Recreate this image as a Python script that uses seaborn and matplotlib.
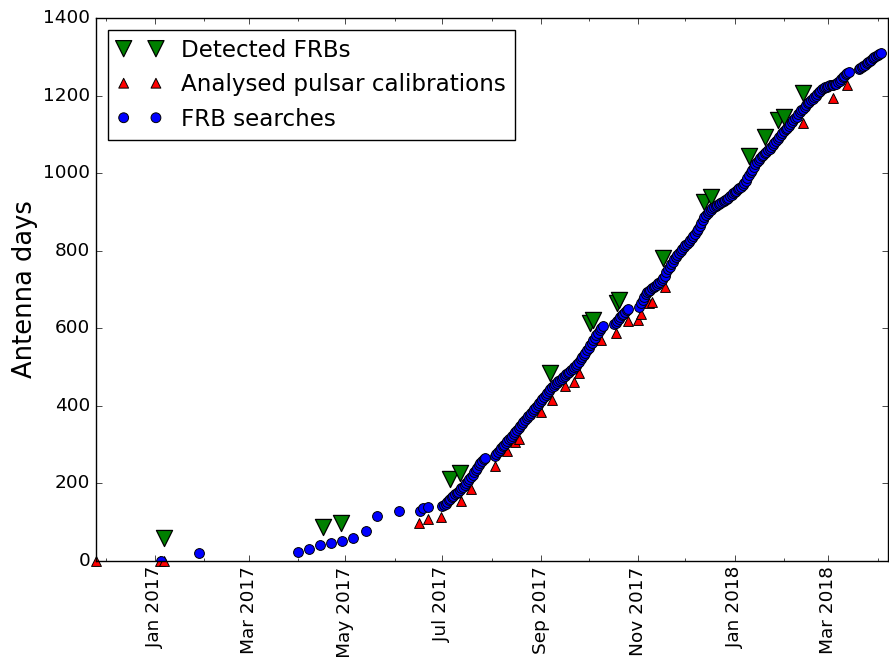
import pandas as pd
import matplotlib
matplotlib.use("Agg")
import matplotlib.pyplot as plt
import matplotlib.dates as mdates
import seaborn as sns


# Data (days counted from 1 Jan 2017, cumulative antenna days)

start = pd.Timestamp("2017-01-01")

frb_days = [6, 106, 117, 186, 192, 249, 274, 276, 291, 292, 320, 346, 350,
            374, 384, 392, 396, 408]
frb_antenna_days = [60, 88, 97, 211, 226, 484, 614, 621, 666, 673, 780, 926,
                    939, 1044, 1094, 1137, 1146, 1206]

cal_days = [-37, 3.5, 5.5, 166, 172, 180, 193, 199, 214, 222, 227, 229, 243,
            250, 258, 264, 267, 281, 290, 298, 304, 306, 311, 313, 321, 408,
            427, 436]
cal_antenna_days = [0, 0, 0, 99, 107, 114, 155, 185, 245, 284, 306, 314, 383,
                    414, 451, 462, 484, 570, 587, 620, 621, 636, 664, 668, 707,
                    1130, 1195, 1228]

search_days = [
    4, 28, 90, 97, 104, 111, 118, 125, 133, 140,
    154, 167, 169, 172,
    181, 182, 183, 184, 185, 186, 187, 188, 189, 190,
    191, 192, 193, 194, 195, 196, 197, 198, 199, 200,
    201, 202, 203, 204, 205, 206, 207, 208,
    214, 215, 216, 217, 218, 219, 220, 221, 222, 223,
    224, 225, 226, 227, 228, 229, 230, 231, 232, 233,
    234, 235, 236, 237, 238, 239, 240, 241, 242, 243,
    244, 245, 246, 247, 248, 249, 250, 251, 252, 253,
    254, 255, 256, 257, 258, 259, 260, 261, 262, 263,
    264, 265, 266, 267, 268, 269, 270, 271, 272, 273,
    274, 275, 276, 277, 278, 279, 280, 281, 282,
    289, 290, 291, 292, 293, 294, 295, 296, 297, 298,
    305, 306, 307, 308, 309, 310, 311, 312, 313, 314,
    315, 316, 317, 318, 319, 320, 321, 322, 323, 324,
    325, 326, 327, 328, 329, 330, 331, 332, 333, 334,
    335, 336, 337, 338, 339, 340, 341, 342, 343, 344,
    345, 346, 347, 348, 349, 350, 351, 352, 353, 354,
    355, 356, 357, 358, 359, 360, 361, 362, 363, 364,
    365, 366, 367, 368, 369, 370, 371, 372, 373, 374,
    375, 376, 377, 378, 379, 380, 381, 382, 383, 384,
    385, 386, 387, 388, 389, 390, 391, 392, 393, 394,
    395, 396, 397, 398, 399, 400, 401, 402, 403, 404,
    405, 406, 407, 408, 409, 410, 411, 412, 413, 414,
    415, 416, 417, 418, 419, 420, 421, 422, 423, 424,
    425, 426, 427, 428, 429, 430, 431, 432, 433, 434,
    435, 436, 437,
    443, 444, 445, 446, 447, 448, 449, 450, 451, 452,
    453, 454, 455, 456, 457,
]
search_antenna_days = [
    0, 21, 22, 31, 40, 46, 52, 60, 77, 115,
    129, 129, 136, 138,
    142, 144, 148, 152, 157, 161, 165, 168, 172, 175,
    179, 183, 188, 192, 197, 201, 206, 211, 217, 222,
    229, 235, 241, 247, 253, 258, 262, 266,
    271, 276, 281, 286, 291, 296, 300, 305, 309, 314,
    318, 323, 328, 333, 338, 343, 348, 353, 358, 363,
    368, 373, 377, 382, 387, 392, 397, 402, 407, 412,
    417, 423, 428, 433, 438, 443, 448, 452, 456, 460,
    463, 467, 470, 474, 477, 481, 484, 488, 492, 496,
    500, 504, 509, 514, 520, 526, 532, 537, 543, 549,
    556, 563, 570, 576, 583, 589, 595, 600, 606,
    610, 614, 618, 623, 628, 633, 638, 642, 647, 651,
    656, 664, 672, 680, 688, 693, 697, 700, 703, 706,
    709, 712, 716, 720, 725, 730, 735, 744, 752, 759,
    766, 772, 778, 784, 790, 795, 800, 805, 809, 814,
    818, 822, 827, 832, 838, 844, 850, 857, 865, 872,
    880, 886, 892, 897, 902, 906, 909, 912, 915, 918,
    921, 924, 926, 928, 930, 933, 936, 940, 944, 948,
    951, 955, 958, 961, 965, 969, 974, 980, 987, 995,
    1002, 1009, 1016, 1023, 1030, 1035, 1040, 1044, 1048, 1051,
    1055, 1059, 1063, 1067, 1072, 1077, 1082, 1087, 1093, 1098,
    1103, 1108, 1113, 1117, 1122, 1126, 1131, 1136, 1141, 1146,
    1152, 1157, 1162, 1166, 1171, 1175, 1180, 1184, 1188, 1192,
    1196, 1200, 1204, 1208, 1212, 1216, 1219, 1221, 1223, 1225,
    1226, 1227, 1228, 1229, 1231, 1234, 1238, 1242, 1247, 1251,
    1255, 1259, 1262,
    1268, 1270, 1273, 1277, 1280, 1284, 1287, 1290, 1293, 1296,
    1299, 1302, 1305, 1308, 1310,
]


def to_dates(days):
    return list(start + pd.to_timedelta(days, unit="D"))


# Figure

plt.style.use("classic")

fig = plt.figure(figsize=(8.89, 6.57), dpi=100, facecolor="white")
ax = fig.add_axes([96 / 889, 96 / 657, 792 / 889, 543 / 657])

sns.scatterplot(
    x=to_dates(frb_days),
    y=frb_antenna_days,
    marker="v",
    s=135,
    color="green",
    edgecolor="black",
    linewidth=0.9,
    label="Detected FRBs",
    ax=ax
)

sns.scatterplot(
    x=to_dates(cal_days),
    y=cal_antenna_days,
    marker="^",
    s=50,
    color="red",
    edgecolor="black",
    linewidth=0.7,
    label="Analysed pulsar calibrations",
    clip_on=False,
    ax=ax
)

sns.scatterplot(
    x=to_dates(search_days),
    y=search_antenna_days,
    marker="o",
    s=50,
    color="blue",
    edgecolor="black",
    linewidth=0.7,
    label="FRB searches",
    ax=ax
)


# Axes

ax.set_xlim(pd.Timestamp("2016-11-25"), pd.Timestamp("2018-04-07 12:00"))
ax.set_ylim(0, 1400)
ax.set_yticks(range(0, 1401, 200))

ax.xaxis.set_major_locator(mdates.MonthLocator(bymonth=[1, 3, 5, 7, 9, 11]))
ax.xaxis.set_major_formatter(mdates.DateFormatter("%b %Y"))
ax.xaxis.set_minor_locator(mdates.MonthLocator(bymonth=[]))

ax.tick_params(labelsize=13.3)
plt.setp(ax.get_xticklabels(), rotation=90)

ax.set_xlabel("")
ax.set_ylabel("Antenna days", fontsize=18.5, labelpad=4)

ax.legend(
    loc="upper left",
    scatterpoints=2,
    scatteryoffsets=[0.5],
    fontsize=16.6
)

fig.savefig("out.png", dpi=100, facecolor="white")
